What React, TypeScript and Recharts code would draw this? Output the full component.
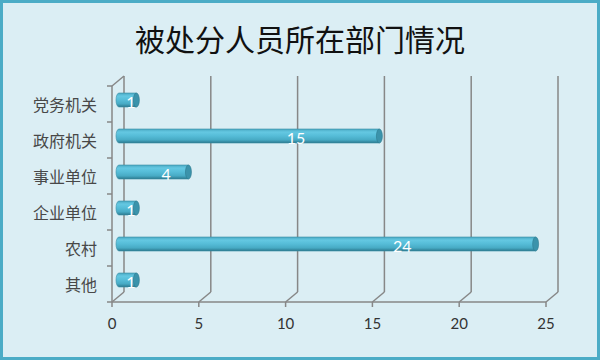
import React from 'react';
import { BarChart, Bar, XAxis, YAxis, CartesianGrid, LabelList } from 'recharts';

const title = '被处分人员所在部门情况';
const categories = ['党务机关', '政府机关', '事业单位', '企业单位', '农村', '其他'];
const values = [1, 15, 4, 1, 24, 1];
const xTicks = [0, 5, 10, 15, 20, 25];

const data = categories.map((name, i) => ({ name, value: values[i] }));

const W = 600;
const H = 360;
const MARGIN = { top: 86, right: 54, bottom: 28, left: 0 };
const YAXIS_W = 112;
const XAXIS_H = 30;
const PLOT_H = H - MARGIN.top - MARGIN.bottom - XAXIS_H;

const DX = 12; // 3D depth offset
const DY = 10;
const BX = 7; // bar depth offset
const BY = 4;

const GRID = '#878787';

function GridLine(props: any) {
  const { x1, y1, y2, index } = props;
  const top = Math.min(y1, y2);
  const bottom = Math.max(y1, y2);
  return (
    <g key={`gl-${index}-${x1}`}>
      <line x1={x1 + DX} y1={top - DY} x2={x1 + DX} y2={bottom - DY} stroke={GRID} strokeWidth={1.5} />
      <line x1={x1} y1={bottom} x2={x1 + DX} y2={bottom - DY} stroke={GRID} strokeWidth={1.5} />
      {index === 0 ? (
        <line x1={x1} y1={top} x2={x1 + DX} y2={top - DY} stroke={GRID} strokeWidth={1.5} />
      ) : null}
    </g>
  );
}

function Cylinder(props: any) {
  const { x, y, width, height } = props;
  if (!width || width <= 0) return null;
  const x0 = x + BX;
  const y0 = y - BY;
  const h = height;
  const r = h / 2;
  const ex = 3;
  const d = `M ${x0} ${y0} L ${x0 + width} ${y0} L ${x0 + width} ${y0 + h} L ${x0} ${y0 + h} A ${ex} ${r} 0 0 1 ${x0} ${y0} Z`;
  return (
    <g>
      <path d={d} fill="url(#cylGrad)" stroke="#3a8ea6" strokeWidth={0.6} />
      <ellipse cx={x0 + width} cy={y0 + r} rx={ex} ry={r} fill="#3b93ab" stroke="#2d7a8f" strokeWidth={0.6} />
    </g>
  );
}

function BarLabel(props: any) {
  const vb = props.viewBox || props;
  const { x, y, width, height } = vb;
  const { value } = props;
  return (
    <text
      x={x + BX + width * 0.68}
      y={y - BY + height / 2 + 1}
      fill="#ffffff"
      textAnchor="middle"
      dominantBaseline="central"
      fontSize={16}
      fontFamily="Lato, 'Open Sans', sans-serif"
    >
      {value}
    </text>
  );
}

function CatTick(props: any) {
  const { x, y, payload, index } = props;
  const band = PLOT_H / categories.length;
  const axisX = x + 15;
  return (
    <g>
      <text
        x={x}
        y={y}
        textAnchor="end"
        dominantBaseline="central"
        fontSize={16}
        fill="#484848"
        fontFamily="'Noto Sans CJK SC', sans-serif"
      >
        {payload.value}
      </text>
      <line x1={axisX - 5} y1={y - band / 2} x2={axisX} y2={y - band / 2} stroke={GRID} strokeWidth={1.5} />
      {index === categories.length - 1 ? (
        <line x1={axisX - 5} y1={y + band / 2} x2={axisX} y2={y + band / 2} stroke={GRID} strokeWidth={1.5} />
      ) : null}
    </g>
  );
}

export default function App() {
  return (
    <div
      style={{
        position: 'absolute',
        left: 0,
        top: 0,
        width: W,
        height: H,
        background: '#dbeef4',
        boxShadow: 'inset 0 0 0 3px #4bacc6',
      }}
    >
      <div
        style={{
          position: 'absolute',
          left: 0,
          top: 22,
          width: W,
          textAlign: 'center',
          fontSize: 30,
          lineHeight: '32px',
          color: '#111',
          fontFamily: "'Noto Sans CJK SC', sans-serif",
        }}
      >
        {title}
      </div>
      <div style={{ position: 'absolute', left: 0, top: 0 }}>
        <BarChart width={W} height={H} data={data} layout="vertical" margin={MARGIN}>
          <defs>
            <linearGradient id="cylGrad" x1="0" y1="0" x2="0" y2="1">
              <stop offset="0%" stopColor="#4aa9c3" />
              <stop offset="22%" stopColor="#64c8e2" />
              <stop offset="50%" stopColor="#55bcd7" />
              <stop offset="78%" stopColor="#47aac4" />
              <stop offset="100%" stopColor="#2b788d" />
            </linearGradient>
          </defs>
          <CartesianGrid horizontal={false} vertical={GridLine as any} />
          <XAxis
            type="number"
            domain={[0, 25]}
            ticks={xTicks}
            height={XAXIS_H}
            axisLine={{ stroke: GRID, strokeWidth: 1.5 }}
            tickLine={{ stroke: GRID, strokeWidth: 1.5 }}
            tickSize={5}
            tickMargin={11}
            tick={{ fill: '#333333', fontSize: 15, fontFamily: "Lato, 'Open Sans', sans-serif" }}
          />
          <YAxis
            type="category"
            dataKey="name"
            width={YAXIS_W}
            axisLine={{ stroke: GRID, strokeWidth: 1.5 }}
            tickLine={false}
            tickSize={4}
            tickMargin={11}
            tick={<CatTick />}
          />
          <Bar dataKey="value" barSize={14} shape={<Cylinder />} isAnimationActive={false}>
            <LabelList dataKey="value" content={<BarLabel />} />
          </Bar>
        </BarChart>
      </div>
    </div>
  );
}
